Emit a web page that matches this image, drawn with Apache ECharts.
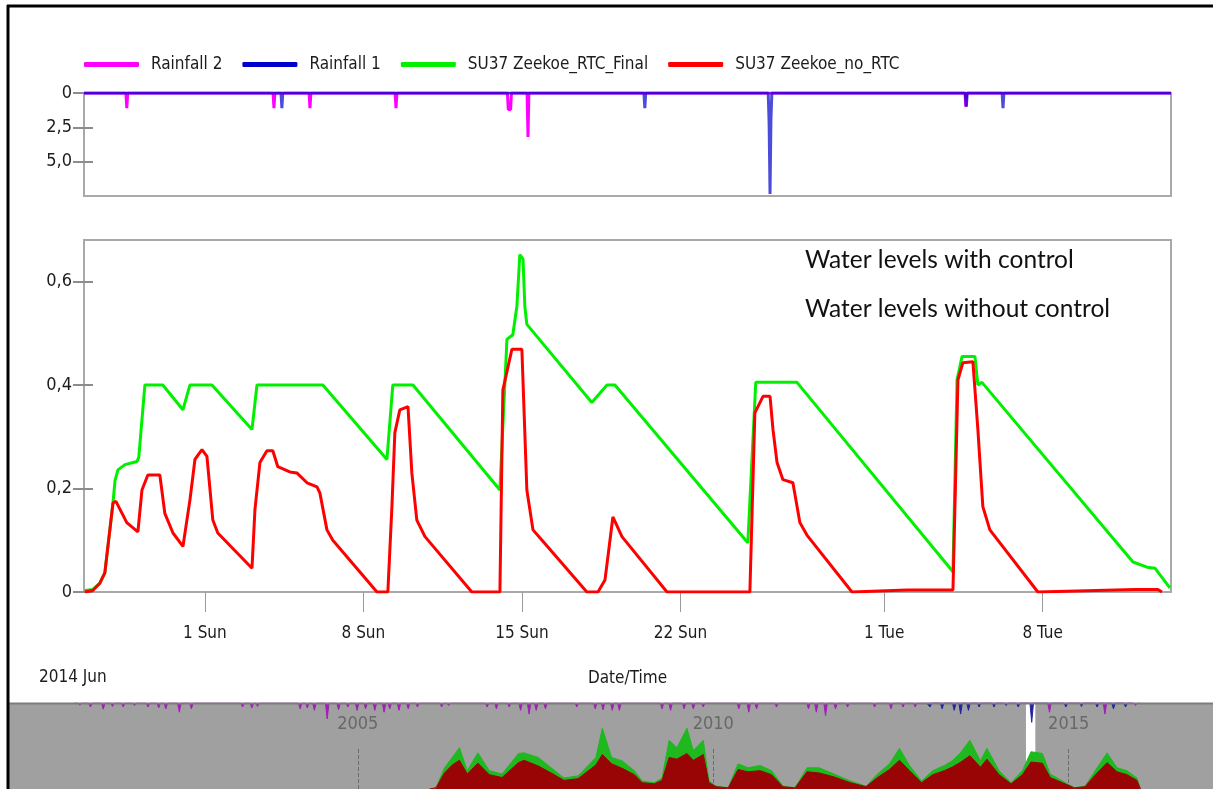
<!DOCTYPE html>
<html>
<head>
<meta charset="utf-8">
<title>SU37 Zeekoe water levels</title>
<script src="https://cdn.jsdelivr.net/npm/echarts@6/dist/echarts.min.js"></script>
<style>
  html, body { margin: 0; padding: 0; background: #fff; }
  #main { width: 1213px; height: 789px; }
</style>
</head>
<body>
<div id="main"></div>
<script>
var NARROW = "'DejaVu Sans Condensed', 'Liberation Sans Narrow', sans-serif";

// main view, in days counted from 1 June 2014 00:00
var dayMin = -5.34, dayMax = 42.67;
var tickDays = [0, 7, 14, 21, 30, 37];
var tickLabels = ['1 Sun', '8 Sun', '15 Sun', '22 Sun', '1 Tue', '8 Tue'];
var levelTicks = [0, 0.2, 0.4, 0.6];
var rainTicks = [0, 2.5, 5];

// water level with control (m)
var rtcDays = [-5.30, -4.95, -4.64, -4.42, -4.06, -3.97, -3.84, -3.53, -3.00, -2.92, -2.65, -1.86, -0.97, -0.66, 0.31, 2.08, 2.30, 5.21, 8.04, 8.30, 9.19, 13.03, 13.34, 13.60, 13.78, 13.91, 14.05, 14.13, 14.22, 17.09, 17.76, 18.11, 23.98, 24.33, 26.15, 33.04, 33.22, 33.44, 34.01, 34.14, 34.32, 40.99, 41.61, 41.96, 42.62];
var rtcLevels = [0.003, 0.005, 0.017, 0.037, 0.172, 0.215, 0.236, 0.246, 0.252, 0.26, 0.40, 0.40, 0.352, 0.40, 0.40, 0.314, 0.40, 0.40, 0.256, 0.40, 0.40, 0.197, 0.488, 0.497, 0.552, 0.652, 0.643, 0.552, 0.517, 0.366, 0.40, 0.40, 0.095, 0.405, 0.405, 0.039, 0.41, 0.455, 0.455, 0.40, 0.405, 0.058, 0.048, 0.046, 0.008];

// water level without control (m)
var noRtcDays = [-5.30, -4.95, -4.64, -4.42, -4.06, -3.93, -3.45, -2.96, -2.78, -2.52, -1.99, -1.77, -1.41, -0.97, -0.66, -0.44, -0.13, 0.09, 0.35, 0.57, 2.08, 2.21, 2.43, 2.74, 3.00, 3.22, 3.75, 4.06, 4.51, 4.95, 5.08, 5.39, 5.65, 7.60, 8.08, 8.26, 8.39, 8.61, 8.97, 9.14, 9.36, 9.72, 11.79, 13.03, 13.16, 13.56, 14.00, 14.22, 14.49, 14.89, 16.87, 17.36, 17.67, 18.02, 18.42, 20.41, 24.07, 24.29, 24.65, 24.96, 25.09, 25.27, 25.53, 25.97, 26.28, 26.59, 28.58, 31.01, 33.04, 33.26, 33.48, 33.92, 34.14, 34.36, 34.67, 36.79, 41.08, 42.09, 42.27];
var noRtcLevels = [0, 0.003, 0.017, 0.037, 0.172, 0.175, 0.134, 0.116, 0.197, 0.226, 0.226, 0.152, 0.114, 0.088, 0.178, 0.256, 0.275, 0.262, 0.139, 0.114, 0.046, 0.159, 0.25, 0.273, 0.273, 0.242, 0.232, 0.23, 0.211, 0.203, 0.191, 0.12, 0.10, 0, 0, 0.165, 0.308, 0.352, 0.358, 0.23, 0.139, 0.107, 0, 0, 0.39, 0.469, 0.469, 0.197, 0.12, 0.10, 0, 0, 0.023, 0.145, 0.107, 0, 0, 0.346, 0.378, 0.378, 0.314, 0.25, 0.217, 0.211, 0.134, 0.11, 0, 0.004, 0.004, 0.41, 0.443, 0.445, 0.314, 0.165, 0.12, 0, 0.005, 0.005, 0];

// rainfall (mm)
var rain2Days = [-3.45, 3.05, 4.64, 8.44, 13.40, 13.50, 14.27, 33.61];
var rain2Vals = [1.1, 1.1, 1.1, 1.1, 1.2, 1.2, 3.2, 1.0];
var rain1Days = [3.40, 19.43, 24.92, 24.96, 25.00, 33.63, 35.25];
var rain1Vals = [1.1, 1.1, 2.2, 7.35, 2.0, 1.0, 1.1];

// overview strip, in years
var ovMin = 2000.08, ovMax = 2017.03;
var viewStart = 2014.399, viewEnd = 2014.531;
var yearTicks = [2005, 2010, 2015];
var ovYears = [2006.01, 2006.10, 2006.22, 2006.33, 2006.43, 2006.54, 2006.69, 2006.85, 2007.03, 2007.26, 2007.34, 2007.54, 2007.72, 2007.90, 2008.10, 2008.35, 2008.44, 2008.57, 2008.72, 2008.89, 2009.00, 2009.17, 2009.28, 2009.38, 2009.49, 2009.63, 2009.72, 2009.86, 2009.94, 2010.04, 2010.21, 2010.35, 2010.49, 2010.66, 2010.82, 2010.98, 2011.15, 2011.32, 2011.49, 2011.70, 2011.93, 2012.15, 2012.31, 2012.48, 2012.62, 2012.76, 2012.93, 2013.09, 2013.25, 2013.36, 2013.47, 2013.61, 2013.76, 2013.85, 2014.02, 2014.19, 2014.35, 2014.47, 2014.63, 2014.74, 2014.91, 2015.08, 2015.23, 2015.40, 2015.54, 2015.68, 2015.82, 2015.96, 2016.01];
var ovFinal = [0, 0.02, 0.37, 0.55, 0.72, 0.32, 0.63, 0.32, 0.26, 0.62, 0.63, 0.55, 0.37, 0.19, 0.23, 0.55, 1.06, 0.55, 0.49, 0.32, 0.14, 0.11, 0.19, 0.85, 0.72, 1.06, 0.67, 0.85, 0.14, 0.05, 0.02, 0.44, 0.37, 0.41, 0.32, 0.05, 0.02, 0.37, 0.37, 0.26, 0.14, 0.05, 0.26, 0.44, 0.71, 0.41, 0.14, 0.32, 0.41, 0.49, 0.62, 0.85, 0.49, 0.71, 0.32, 0.11, 0.32, 0.65, 0.62, 0.26, 0.14, 0.02, 0.05, 0.37, 0.63, 0.37, 0.32, 0.19, 0];
var ovNoRtc = [0, 0.02, 0.28, 0.42, 0.50, 0.26, 0.45, 0.25, 0.20, 0.46, 0.50, 0.40, 0.28, 0.15, 0.18, 0.42, 0.60, 0.44, 0.36, 0.25, 0.11, 0.09, 0.15, 0.55, 0.52, 0.62, 0.50, 0.60, 0.11, 0.04, 0.02, 0.34, 0.30, 0.32, 0.25, 0.04, 0.02, 0.30, 0.28, 0.21, 0.11, 0.04, 0.20, 0.34, 0.50, 0.32, 0.11, 0.25, 0.32, 0.38, 0.46, 0.58, 0.38, 0.52, 0.25, 0.09, 0.25, 0.47, 0.45, 0.20, 0.11, 0.02, 0.04, 0.28, 0.46, 0.30, 0.25, 0.15, 0];
var ovRain2Years = [2001.09, 2001.24, 2001.42, 2001.55, 2001.70, 2001.86, 2002.05, 2002.20, 2002.30, 2002.49, 2002.66, 2003.38, 2003.51, 2003.59, 2004.19, 2004.29, 2004.39, 2004.57, 2004.73, 2004.86, 2004.99, 2005.11, 2005.24, 2005.37, 2005.45, 2005.58, 2005.71, 2005.84, 2006.18, 2006.28, 2006.82, 2006.95, 2007.13, 2007.29, 2007.41, 2007.51, 2007.64, 2008.08, 2008.34, 2008.45, 2008.58, 2008.68, 2009.28, 2009.40, 2009.59, 2009.72, 2009.86, 2010.36, 2010.50, 2010.61, 2010.89, 2011.34, 2011.45, 2011.58, 2011.72, 2011.89, 2012.27, 2012.50, 2012.67, 2012.84, 2014.73, 2015.51, 2015.94];
var ovRain2 = [0.7, 1.3, 2.0, 1.1, 1.3, 0.8, 1.3, 1.6, 1.9, 3.0, 1.9, 1.3, 1.6, 1.1, 1.9, 1.6, 2.4, 5.2, 2.2, 1.3, 2.4, 1.9, 2.4, 3.0, 1.9, 2.4, 1.9, 1.3, 1.3, 0.8, 1.3, 1.9, 1.3, 2.4, 3.6, 2.4, 1.9, 1.3, 1.9, 2.2, 2.4, 2.4, 1.9, 2.4, 1.9, 1.9, 1.3, 1.9, 3.0, 1.9, 1.3, 1.9, 3.0, 4.1, 1.9, 1.3, 1.3, 1.9, 1.3, 1.3, 3.0, 3.6, 0.8];
var ovRain1Years = [2013.05, 2013.22, 2013.39, 2013.48, 2013.59, 2013.74, 2013.95, 2014.12, 2014.29, 2014.48, 2014.96, 2015.18, 2015.40, 2015.63, 2015.80];
var ovRain1 = [1.3, 1.9, 2.4, 3.6, 2.4, 1.3, 1.3, 0.8, 1.3, 6.3, 1.3, 1.1, 1.3, 1.9, 1.3];

function zip(xs, ys) {
    return xs.map(function (x, i) { return [x, ys[i]]; });
}

// rain readings are spikes: a zero on each side unless the next reading is right beside it
function spikes(xs, ys, from, to, pad) {
    var out = [[from, 0]];
    for (var i = 0; i < xs.length; i++) {
        if (i === 0 || xs[i] - xs[i - 1] > pad * 2.5) out.push([xs[i] - pad, 0]);
        out.push([xs[i], ys[i]]);
        if (i === xs.length - 1 || xs[i + 1] - xs[i] > pad * 2.5) out.push([xs[i] + pad, 0]);
    }
    out.push([to, 0]);
    return out;
}

function commaNum(v) {
    return v === 0 ? '0' : v.toFixed(1).replace('.', ',');
}

var labelText = { fontFamily: NARROW, fontSize: 18, color: '#1c1c1c' };
var tickStyle = { color: '#8c8c8c', width: 2 };

var chart = echarts.init(document.getElementById('main'));

var option = {
    animation: false,
    backgroundColor: '#fff',
    legend: {
        data: ['Rainfall 2', 'Rainfall 1', 'SU37 Zeekoe_RTC_Final', 'SU37 Zeekoe_no_RTC'],
        left: 79,
        top: 51,
        icon: 'roundRect',
        itemWidth: 55,
        itemHeight: 5,
        itemGap: 20,
        textStyle: { fontFamily: NARROW, fontSize: 17, color: '#1c1c1c', padding: [0, 0, 0, 7] }
    },
    grid: [
        { left: 84, top: 93, width: 1087, height: 103, show: true, borderColor: '#a9a9a9', borderWidth: 2 },
        { left: 84, top: 240, width: 1087, height: 352, show: true, borderColor: '#a9a9a9', borderWidth: 2 },
        { left: 8, top: 703, width: 1205, height: 86 }
    ],
    xAxis: [
        { gridIndex: 0, type: 'value', min: dayMin, max: dayMax, show: false },
        {
            gridIndex: 1, type: 'value', min: dayMin, max: dayMax,
            axisLine: { show: false, onZero: false },
            splitLine: { show: false },
            axisTick: { show: true, customValues: tickDays, length: 20, lineStyle: { color: '#9a9a9a', width: 1 } },
            axisLabel: {
                customValues: tickDays,
                formatter: function (v) { return tickLabels[tickDays.indexOf(v)]; },
                margin: 33, fontFamily: NARROW, fontSize: 17, color: '#1c1c1c'
            },
            name: 'Date/Time', nameLocation: 'middle', nameGap: 78,
            nameTextStyle: { fontFamily: NARROW, fontSize: 17, color: '#1c1c1c' }
        },
        {
            gridIndex: 2, type: 'value', min: ovMin, max: ovMax, position: 'top',
            axisLine: { show: false, onZero: false }, axisTick: { show: false }, splitLine: { show: false },
            axisLabel: {
                inside: true, customValues: yearTicks, margin: 12,
                formatter: function (v) { return String(v); },
                fontFamily: NARROW, fontSize: 18, color: '#686868'
            }
        },
        {
            gridIndex: 2, type: 'value', min: ovMin, max: ovMax, position: 'bottom',
            axisLine: { show: false, onZero: false }, axisLabel: { show: false }, splitLine: { show: false },
            axisTick: { show: true, inside: true, length: 40, customValues: yearTicks, lineStyle: { color: '#6c6c6c', type: 'dashed' } }
        }
    ],
    yAxis: [
        {
            gridIndex: 0, type: 'value', inverse: true, min: 0, max: 7.5,
            axisLine: { show: false, onZero: false }, splitLine: { show: false },
            axisTick: { show: true, customValues: rainTicks, length: 11, lineStyle: tickStyle },
            axisLabel: Object.assign({ customValues: rainTicks, formatter: commaNum, margin: 12 }, labelText)
        },
        {
            gridIndex: 1, type: 'value', min: 0, max: 0.68,
            axisLine: { show: false, onZero: false }, splitLine: { show: false },
            axisTick: { show: true, customValues: levelTicks, length: 11, lineStyle: tickStyle },
            axisLabel: Object.assign({ customValues: levelTicks, formatter: commaNum, margin: 12 }, labelText)
        },
        { gridIndex: 2, type: 'value', min: 0, max: 1.5, show: false },
        { gridIndex: 2, type: 'value', min: 0, max: 28, inverse: true, show: false },
        // the ticks cross the frame: second copies with inner ticks
        {
            gridIndex: 0, type: 'value', position: 'left', offset: 0, inverse: true, min: 0, max: 7.5,
            axisLine: { show: false, onZero: false }, splitLine: { show: false }, axisLabel: { show: false },
            axisTick: { show: true, inside: true, customValues: rainTicks, length: 9, lineStyle: tickStyle }
        },
        {
            gridIndex: 1, type: 'value', position: 'left', offset: 0, min: 0, max: 0.68,
            axisLine: { show: false, onZero: false }, splitLine: { show: false }, axisLabel: { show: false },
            axisTick: { show: true, inside: true, customValues: levelTicks, length: 9, lineStyle: tickStyle }
        }
    ],
    series: [
        {
            name: 'Rainfall 2', type: 'line', xAxisIndex: 0, yAxisIndex: 0, symbol: 'none',
            data: spikes(rain2Days, rain2Vals, dayMin, dayMax, 0.04),
            itemStyle: { color: '#ff00ff' }, lineStyle: { color: '#ff00ff', width: 3 }
        },
        {
            name: 'Rainfall 1', type: 'line', xAxisIndex: 0, yAxisIndex: 0, symbol: 'none',
            data: spikes(rain1Days, rain1Vals, dayMin, dayMax, 0.04),
            itemStyle: { color: '#0000cc' }, lineStyle: { color: '#0000cc', width: 3, opacity: 0.7 }
        },
        {
            name: 'SU37 Zeekoe_RTC_Final', type: 'line', xAxisIndex: 1, yAxisIndex: 1, symbol: 'none',
            data: zip(rtcDays, rtcLevels),
            itemStyle: { color: '#00f000' }, lineStyle: { color: '#00f000', width: 3 }
        },
        {
            name: 'SU37 Zeekoe_no_RTC', type: 'line', xAxisIndex: 1, yAxisIndex: 1, symbol: 'none',
            data: zip(noRtcDays, noRtcLevels),
            itemStyle: { color: '#ff0000' }, lineStyle: { color: '#ff0000', width: 3 }
        },
        {
            name: 'overview rain 2', type: 'line', xAxisIndex: 2, yAxisIndex: 3, symbol: 'none',
            data: spikes(ovRain2Years, ovRain2, 2001.0, 2016.0, 0.025),
            lineStyle: { color: '#a41cba', width: 1 }, areaStyle: { color: '#a41cba', opacity: 1 }
        },
        {
            name: 'overview rain 1', type: 'line', xAxisIndex: 2, yAxisIndex: 3, symbol: 'none',
            data: spikes(ovRain1Years, ovRain1, 2013.0, 2015.9, 0.025),
            lineStyle: { color: '#2323a6', width: 1 }, areaStyle: { color: '#2323a6', opacity: 1 }
        },
        {
            name: 'overview RTC_Final', type: 'line', xAxisIndex: 2, yAxisIndex: 2, symbol: 'none',
            data: zip(ovYears, ovFinal),
            lineStyle: { color: '#1fb81f', width: 1 }, areaStyle: { color: '#1fb81f', opacity: 1 }
        },
        {
            name: 'overview no_RTC', type: 'line', xAxisIndex: 2, yAxisIndex: 2, symbol: 'none',
            data: zip(ovYears, ovNoRtc),
            lineStyle: { color: '#990505', width: 1 }, areaStyle: { color: '#990505', opacity: 1 }
        }
    ],
    graphic: [
        { id: 'strip', type: 'rect', z: 0, shape: { x: 8, y: 703, width: 1205, height: 86 }, style: { fill: '#a0a0a0' } },
        { id: 'window', type: 'rect', z: 1, shape: { x: 0, y: 703, width: 0, height: 86 }, style: { fill: '#ffffff' } },
        { id: 'stripTop', type: 'line', z: 5, shape: { x1: 8, y1: 703.5, x2: 1213, y2: 703.5 }, style: { stroke: '#7c7c7c', lineWidth: 2 } },
        { id: 'frameTop', type: 'line', z: 10, shape: { x1: 7, y1: 6, x2: 1213, y2: 6 }, style: { stroke: '#000', lineWidth: 3 } },
        { id: 'frameLeft', type: 'line', z: 10, shape: { x1: 8, y1: 5, x2: 8, y2: 789 }, style: { stroke: '#000', lineWidth: 3 } },
        { type: 'text', z: 10, x: 805, y: 260, style: { text: 'Water levels with control', font: '24.5px Lato', fill: '#111', verticalAlign: 'middle' } },
        { type: 'text', z: 10, x: 805, y: 309, style: { text: 'Water levels without control', font: '24.5px Lato', fill: '#111', verticalAlign: 'middle' } },
        { type: 'text', z: 10, x: 39, y: 678, style: { text: '2014 Jun', font: "17px 'DejaVu Sans Condensed', sans-serif", fill: '#1c1c1c', verticalAlign: 'middle' } }
    ]
};

chart.setOption(option);

// highlight the shown period in the overview strip
var wx0 = chart.convertToPixel({ xAxisIndex: 2 }, viewStart);
var wx1 = chart.convertToPixel({ xAxisIndex: 2 }, viewEnd);
chart.setOption({
    graphic: [{ id: 'window', shape: { x: wx0, y: 703, width: wx1 - wx0, height: 86 } }]
});
</script>
</body>
</html>
